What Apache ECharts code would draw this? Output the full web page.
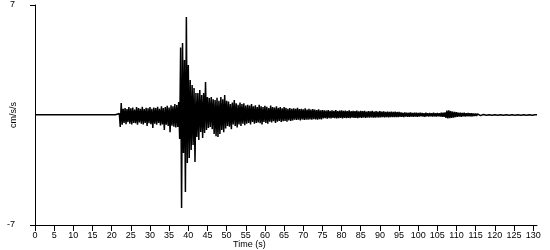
<!DOCTYPE html>
<html>
<head>
<meta charset="utf-8">
<script src="https://cdn.jsdelivr.net/npm/echarts@6/dist/echarts.min.js"></script>
<style>
html,body{margin:0;padding:0;background:#fff;}
#chart{width:550px;height:250px;}
</style>
</head>
<body>
<div id="chart"></div>
<script>
// Sampling of the record (seconds)
const preEventStep = 0.5;
const eventStart = 22;
const eventStep = 0.25;

// Tick labels
const xTickLabels = [0,5,10,15,20,25,30,35,40,45,50,55,60,65,70,75,80,85,90,95,100,105,110,115,120,125,130];
const yTickLabels = [-7, 7];

// Acceleration values (cm/s/s)
const preEventValues = [
  0.015,-0.015,0.015,-0.015,0.015,-0.015,0.015,-0.015,0.015,-0.015,
  0.015,-0.015,0.015,-0.015,0.015,-0.015,0.015,-0.015,0.015,-0.015,
  0.015,-0.015,0.015,-0.015,0.015,-0.015,0.015,-0.015,0.015,-0.015,
  0.015,-0.015,0.015,-0.015,0.015,-0.015,0.015,-0.015,0.015,-0.015,
  0.015,-0.015,0.015,-0.015
];
const pWaveValues = [
  0.1,-0.76,0.76,-0.62,0.4,-0.5,0.45,-0.58,
  0.38,-0.45,0.5,-0.55,0.42,-0.6,0.48,-0.5,
  0.35,-0.52,0.5,-0.62,0.44,-0.48,0.4,-0.55,
  0.52,-0.6,0.38,-0.5,0.46,-0.7,0.42,-0.52,
  0.5,-0.58,0.4,-0.83,0.48,-0.55,0.45,-0.62,
  0.52,-0.5,0.4,-0.66,0.55,-0.6,0.45,-0.95,
  0.5,-0.62,0.58,-0.7,0.48,-1.1,0.62,-0.68,
  0.55,-0.75,0.7,-0.8
];
const peakValues = [
  0.64,-0.76,0.83,-1.53,4.3,-5.92,4.58,-2.42,
  3.5,-4.9,6.24,-3.06,3.18,-2.74,2.23,-2.23,
  1.91,-1.91,1.72,-2.99,1.4,-1.4,1.4,-1.59,
  1.59,-1.08,1.27,-1.46,1.4,-1.15,2.1,-0.95,
  1.15,-0.83,1.08,-0.76,1.15
];
const decayValues = [
  -0.9,1.0,-1.2,0.95,-1.35,1.1,-1.4,0.9,
  -1.2,1.15,-0.95,1.0,-1.1,1.27,-0.85,0.9,
  -0.7,0.85,-0.75,0.7,-0.9,0.8,-0.6,0.95,-0.7,0.75,
  -0.8,0.65,-0.6,0.8,-0.7,0.7,-0.55,0.75,-0.65,0.6,
  -0.55,0.65,-0.5,0.6,-0.6,0.7,-0.45,0.55,
  -0.55,0.62,-0.5,0.5,-0.48,0.65,-0.52,0.55,
  -0.6,0.5,-0.45,0.58,-0.5,0.52,-0.55,0.45,
  -0.42,0.6,-0.48,0.5,-0.4,0.48,-0.5,0.55,
  -0.42,0.45,-0.38,0.5,-0.45,0.42,-0.4,0.5,
  -0.38,0.45,-0.42,0.4,-0.35,0.44,-0.38,0.4
];
const codaValues = [
  -0.35,0.42,-0.3,0.4,-0.32,0.45,-0.3,0.38,
  -0.34,0.4,-0.28,0.36,-0.32,0.42,-0.3,0.35,
  -0.3,0.4,-0.28,0.34,-0.3,0.38,-0.26,0.35,
  -0.28,0.32,-0.3,0.36,-0.26,0.3,-0.28,0.32,
  -0.22,0.3,-0.2,0.28,-0.24,0.32,-0.2,0.26,
  -0.22,0.3,-0.18,0.27,-0.2,0.32,-0.22,0.25,
  -0.2,0.28,-0.18,0.3,-0.21,0.26,-0.19,0.28,
  -0.2,0.25,-0.18,0.3,-0.2,0.24,-0.17,0.27,
  -0.19,0.25,-0.18,0.28,-0.2,0.23,-0.17,0.26,
  -0.18,0.24,-0.16,0.27,-0.18,0.22,-0.16,0.25,
  -0.17,0.23,-0.15,0.26,-0.17,0.22,-0.16,0.24,
  -0.15,0.22,-0.16,0.25,-0.15,0.21,-0.14,0.23,
  -0.15,0.2,-0.14,0.22,-0.15,0.2,-0.13,0.21,
  -0.14,0.2,-0.13,0.22,-0.14,0.19,-0.13,0.2
];
const tailValues = [
  -0.12,0.16,-0.11,0.14,-0.13,0.17,-0.1,0.15,
  -0.12,0.14,-0.11,0.16,-0.1,0.13,-0.12,0.15,
  -0.1,0.14,-0.11,0.13,-0.1,0.15,-0.09,0.13,
  -0.1,0.12,-0.11,0.14,-0.09,0.12,-0.1,0.13,
  -0.09,0.12,-0.1,0.14,-0.09,0.11,-0.1,0.13,
  -0.09,0.12,-0.1,0.14,-0.11,0.15,-0.12,0.16,
  -0.18,0.28,-0.22,0.3,-0.2,0.25,-0.18,0.22,-0.16,0.2,-0.14,0.18,
  -0.12,0.15,-0.1,0.14,-0.11,0.13,-0.09,0.14,
  -0.1,0.12,-0.09,0.13,-0.08,0.12,-0.09,0.11,
  -0.08,0.1,-0.07,0.09,-0.06,0.07,-0.05,0.06,
  -0.04,0.05,
  -0.03,0.03,-0.02,0.02,-0.02,0.02,-0.02,0.02,
  -0.02,0.02,-0.02,0.02,-0.02,0.02,-0.02,0.02,
  -0.02,0.02,-0.02,0.02,-0.02,0.02,-0.02,0.02,
  -0.015,0.015,-0.015,0.015,-0.015,0.015,-0.015,0.015,
  -0.015,0.015,-0.015,0.015,-0.015,0.015,-0.015,0.015,
  -0.015,0.015,-0.015,0.015,-0.015,0.015,-0.015,0.015,
  -0.015,0.015,-0.015,0.015,-0.015,0.015,-0.015,0.015,
  -0.015,0.015
];

const eventValues = pWaveValues.concat(peakValues, decayValues, codaValues, tailValues);
const seriesData = preEventValues.map((v, i) => [i * preEventStep, v])
  .concat(eventValues.map((v, i) => [eventStart + i * eventStep, v]));

const FONT = '"Liberation Sans", Arial, sans-serif';
const chart = echarts.init(document.getElementById('chart'), null, {renderer: 'canvas'});
chart.setOption({
  animation: false,
  backgroundColor: '#ffffff',
  grid: {left: 35, right: 13, top: 5, bottom: 25, containLabel: false, outerBoundsMode: 'none'},
  xAxis: {
    type: 'value', min: 0, max: 131,
    axisLine: {show: true, onZero: false, lineStyle: {color: '#000', width: 1}},
    axisTick: {show: true, length: 6, customValues: xTickLabels, lineStyle: {color: '#000', width: 1}},
    axisLabel: {show: true, customValues: xTickLabels, color: '#000', fontSize: 9, fontFamily: FONT, margin: 6},
    splitLine: {show: false}
  },
  yAxis: {
    type: 'value', min: -7, max: 7,
    name: 'cm/s/s', nameLocation: 'middle', nameGap: 17, nameMoveOverlap: false,
    nameTextStyle: {color: '#000', fontSize: 9, fontFamily: FONT},
    axisLine: {show: true, onZero: false, lineStyle: {color: '#000', width: 1}},
    axisTick: {show: true, length: 5, customValues: yTickLabels, lineStyle: {color: '#000', width: 1}},
    axisLabel: {show: true, customValues: yTickLabels, color: '#000', fontSize: 9, fontFamily: FONT,
      margin: 20, align: 'right'},
    splitLine: {show: false}
  },
  graphic: [{
    type: 'text', left: 233, top: 240,
    style: {text: 'Time (s)', fill: '#000', fontSize: 9, fontFamily: FONT}
  }],
  series: [{
    type: 'line', data: seriesData, symbol: 'none', showSymbol: false,
    silent: true, lineStyle: {color: '#000', width: 1.5}
  }]
});
</script>
</body>
</html>
